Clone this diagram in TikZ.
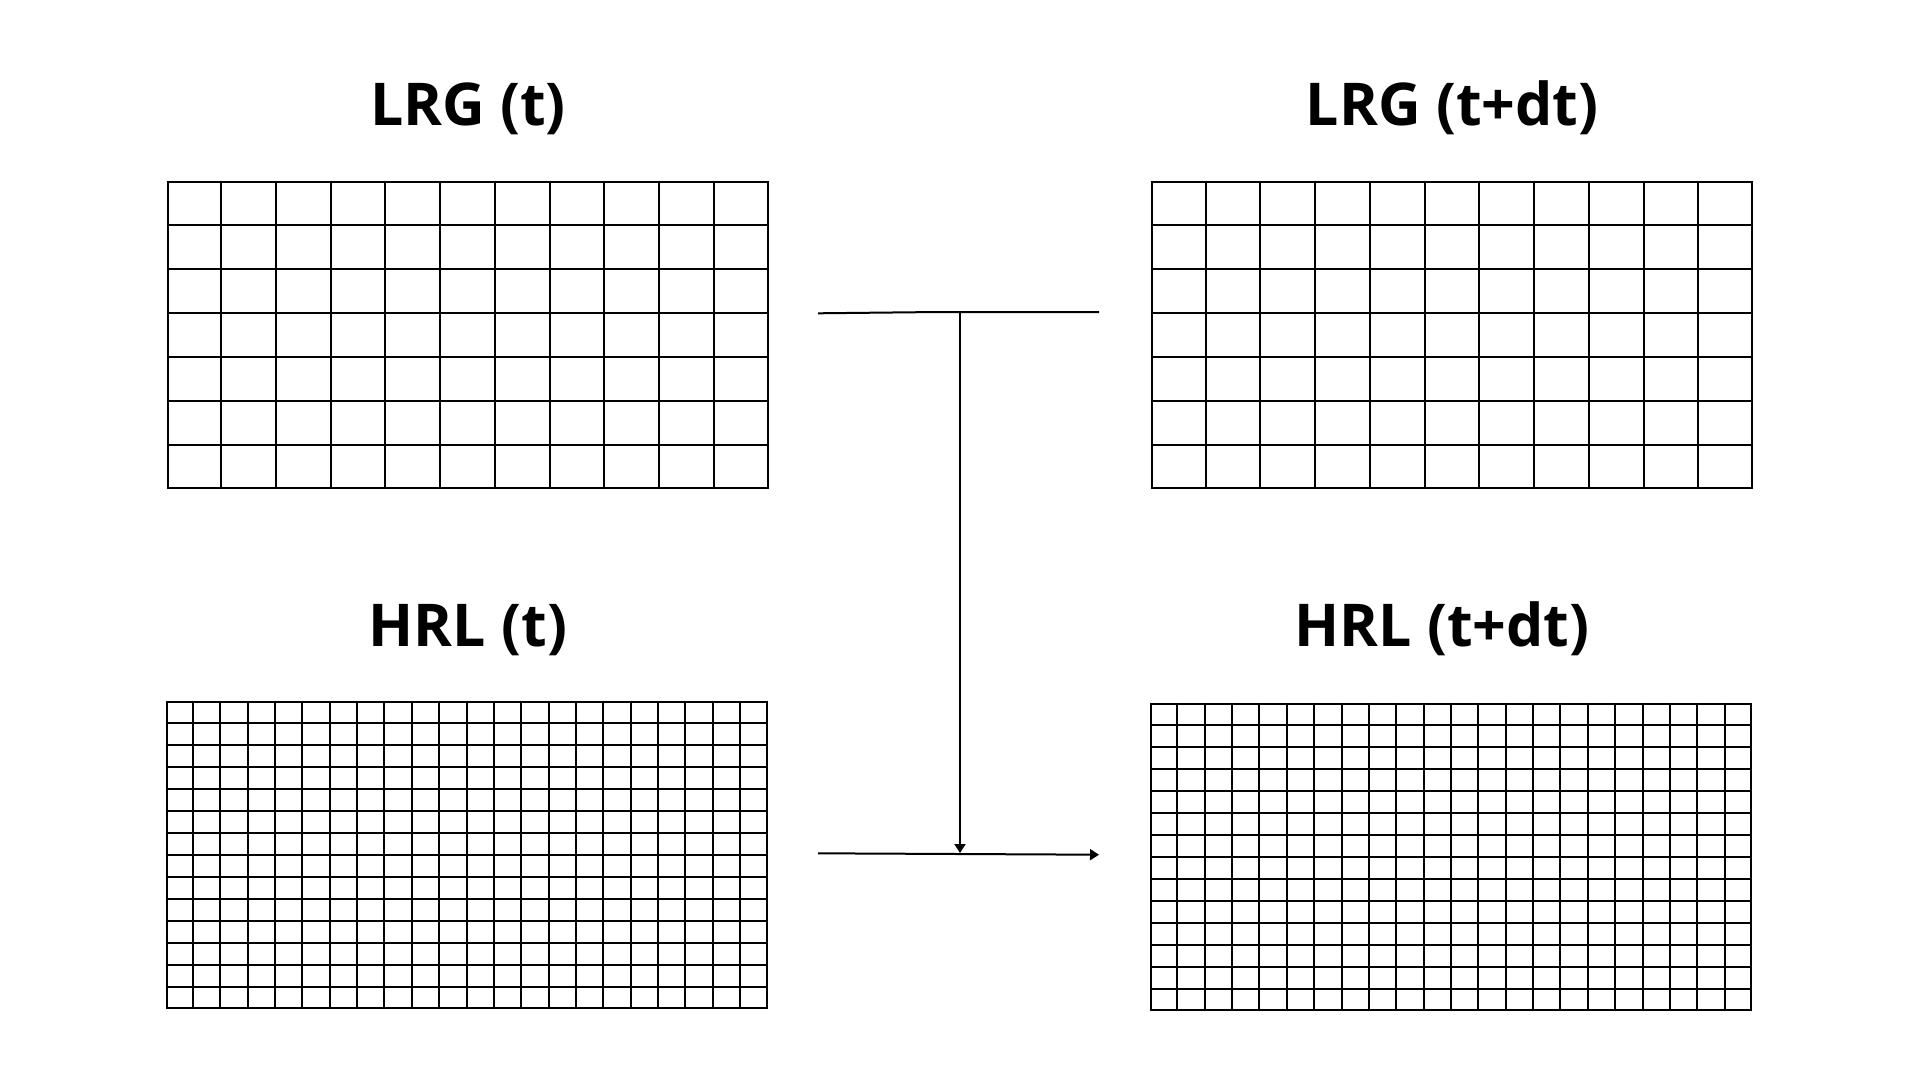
\documentclass[tikz,border=0pt]{standalone}
\usepackage{fontspec}
\setmainfont{Open Sans}
\usetikzlibrary{arrows.meta,calc}
\tikzset{
  gridbox/.style={draw=black, line width=2pt, inner sep=0pt, minimum width=600pt, minimum height=306pt},
  gridline/.style={line width=2pt, black},
  title/.style={anchor=base, inner sep=0pt, font=\fontsize{59}{71}\selectfont\bfseries},
  conn/.style={line width=2pt, black},
  arr/.style={conn, -{Triangle[length=9pt,width=11pt]}}
}
\newcommand{\mygrid}[3]{%
  \foreach \i in {1,...,\numexpr#2-1\relax}
    \draw[gridline] ($(#1.north west)!\i/#2!(#1.north east)$) -- ($(#1.south west)!\i/#2!(#1.south east)$);
  \foreach \j in {1,...,\numexpr#3-1\relax}
    \draw[gridline] ($(#1.north west)!\j/#3!(#1.south west)$) -- ($(#1.north east)!\j/#3!(#1.south east)$);
}
\begin{document}
\begin{tikzpicture}[x=1pt,y=-1pt]
\useasboundingbox (0,0) rectangle (1920,1080);
\fill[white] (0,0) rectangle (1920,1080);
% titles
\node[title] (tlrgt) at (468,125) {LRG (t)};
\node[title] (tlrgtdt) at (1452,125) {LRG (t+dt)};
\node[title] (thrlt) at (468,646) {HRL (t)};
\node[title] (thrltdt) at (1442,646) {HRL (t+dt)};
% grids
\node[gridbox] (lrgt) at (467.5,334.5) {};
\node[gridbox] (lrgtdt) at (1452,334.5) {};
\node[gridbox] (hrlt) at (466.5,855) {};
\node[gridbox] (hrltdt) at (1451,856.5) {};
\mygrid{lrgt}{11}{7}
\mygrid{lrgtdt}{11}{7}
\mygrid{hrlt}{22}{14}
\mygrid{hrltdt}{22}{14}
% connectors
\coordinate (topL) at (818,313.3);
\coordinate (topM) at (938,312);
\coordinate (topR) at (1099,312);
\coordinate (vtop) at (960,312);
\coordinate (vbot) at (960,853);
\coordinate (botL) at (818,853.3);
\coordinate (botR) at (1099,854.7);
\draw[conn] (topL) -- (topM) -- (topR);
\draw[arr] (vtop) -- (vbot);
\draw[arr] (botL) -- (botR);
\end{tikzpicture}
\end{document}
